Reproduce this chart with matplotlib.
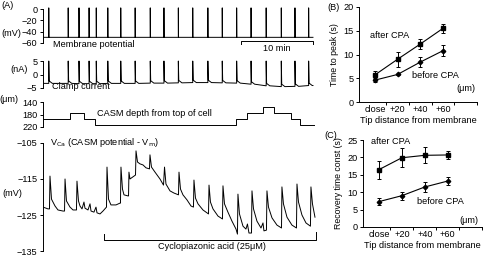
import numpy as np
import matplotlib
matplotlib.use("Agg")
import matplotlib.pyplot as plt

FS = 6.6
plt.rcParams['font.family'] = ['Liberation Sans', 'DejaVu Sans']
plt.rcParams['font.size'] = FS
plt.rcParams['mathtext.default'] = 'regular'

# ---- panel A data (time in min) ----
spike_t = [0.8, 3.5, 5.0, 6.4, 7.4, 9.0, 10.8, 12.8, 14.9, 16.8,
           18.8, 20.8, 22.9, 24.9, 26.9, 28.9, 31.0, 33.1, 35.0, 36.9]
t_end = 37.5
vm_rest = -50
vm_peak = 2
clamp_peak = 5
clamp_base = [-3.3, -3.3, -3.4, -3.4, -3.4, -3.3, -3.3, -3.3, -3.2, -3.2,
              -3.1, -3.0, -3.0, -3.1, -3.2, -3.6, -4.2, -4.5, -4.4, -4.1]

depth_t = [0, 3.75, 5.7, 7.2, 26.8, 28.3, 30.6, 32.1, 34.4, 35.7, 37.6]
depth_um = [195, 175, 195, 215, 195, 175, 155, 175, 195, 215, 215]

vca_t = [0.0, 0.69, 0.90, 0.97, 1.18, 1.67, 2.08, 2.78, 2.99, 3.06, 3.26, 3.75,
         4.17, 4.65, 4.72, 4.93, 5.14, 5.42, 5.69, 5.83, 6.25, 6.53, 6.67, 7.08,
         7.36, 7.50, 7.92, 8.33, 8.82, 8.89, 9.10, 9.44, 10.14, 10.69, 10.76, 10.83,
         11.04, 11.25, 11.81, 11.88, 11.94, 12.08, 12.50, 12.85, 12.92, 13.13, 13.47,
         13.89, 14.31, 14.79, 14.86, 15.07, 15.56, 16.25, 16.74, 16.88, 17.08, 17.64,
         18.19, 18.82, 18.89, 19.10, 19.44, 20.0, 20.56, 20.90, 20.97, 21.18, 21.53,
         22.22, 22.99, 23.06, 23.26, 23.61, 24.31, 24.93, 25.0, 25.21, 25.69, 26.25,
         26.81, 27.01, 27.08, 27.29, 27.78, 28.19, 28.40, 28.61, 28.96, 29.03, 29.24,
         29.72, 30.28, 30.56, 30.69, 31.04, 31.11, 31.32, 31.81, 32.50, 33.13, 33.19,
         33.40, 33.89, 34.58, 35.21, 35.28, 35.49, 35.97, 36.53, 37.15, 37.22, 37.43,
         37.78]
vca_v = [-122.8, -123.3, -123.3, -114.2, -120.6, -122.5, -123.6, -123.9, -123.9,
         -115.0, -121.1, -122.8, -123.6, -123.6, -115.6, -121.1, -122.5, -123.3,
         -121.4, -123.1, -123.6, -121.9, -123.9, -124.2, -122.8, -124.4, -124.7,
         -123.9, -122.8, -111.7, -120.6, -122.2, -122.2, -121.7, -121.7, -111.7,
         -117.8, -119.4, -119.7, -119.7, -113.1, -115.0, -114.4, -113.9, -107.2,
         -110.3, -110.8, -111.1, -111.9, -112.2, -108.3, -111.7, -113.1, -115.0,
         -116.7, -111.7, -116.4, -118.3, -118.9, -119.4, -113.1, -117.8, -119.4,
         -120.8, -122.5, -122.8, -115.3, -120.3, -121.9, -123.6, -124.7, -116.7,
         -121.4, -123.3, -125.3, -126.1, -116.9, -121.9, -124.2, -126.7, -128.9,
         -130.3, -119.2, -124.7, -128.1, -128.9, -127.5, -130.0, -130.0, -118.3,
         -123.3, -126.7, -128.6, -127.2, -129.4, -129.2, -118.3, -122.8, -125.8,
         -127.8, -128.6, -117.2, -121.9, -125.6, -127.8, -128.6, -116.4, -121.4,
         -125.0, -127.2, -128.1, -117.2, -121.9, -125.6]

cpa_start = 8.5
cpa_end = 37.9
scalebar_min = 10

# ---- panels B, C ----
dist_labels = ['close', '+20', '+40', '+60']
peak_after = [5.7, 9.0, 12.2, 15.5]
peak_after_err = [0.9, 1.6, 1.0, 0.9]
peak_before = [4.6, 5.8, 8.4, 10.8]
peak_before_err = [0.4, 0.2, 1.0, 1.2]

rec_after = [16.5, 19.9, 20.6, 20.7]
rec_after_err = [2.6, 2.8, 2.3, 1.2]
rec_before = [7.3, 9.0, 11.5, 13.2]
rec_before_err = [0.9, 1.2, 1.5, 1.2]

W, H = 485, 256
fig = plt.figure(figsize=(W / 100, H / 100), dpi=100)


def px_axes(l, t, r, b):
    return fig.add_axes([l / W, 1 - b / H, (r - l) / W, (b - t) / H])


def ftext(x, y, s, **kw):
    fig.text(x / W, 1 - y / H, s, **kw)


def trace_left(ax, lo, hi):
    for s in ['top', 'right', 'bottom']:
        ax.spines[s].set_visible(False)
    ax.spines['left'].set_bounds(lo, hi)
    ax.spines['left'].set_linewidth(0.7)
    ax.set_xticks([])
    ax.tick_params(axis='y', length=2.5, width=0.7, pad=1.5, labelsize=FS)
    ax.set_xlim(0, 38.2)
    ax.patch.set_alpha(0)


# membrane potential
ax1 = px_axes(43, 5, 318, 46)
mt, mv = [0], [vm_rest]
for t in spike_t:
    mt += [t, t, t + 0.02]
    mv += [vm_rest, vm_peak, vm_rest]
mt.append(t_end)
mv.append(vm_rest)
ax1.plot(mt, mv, color='black', lw=0.7)
ax1.set_ylim(-65.3, 7.1)
ax1.set_yticks([0, -20, -40, -60])
trace_left(ax1, -60, 0)
ax1.text(1.4, -55, 'Membrane potential', va='top', ha='left')
sb0 = t_end - scalebar_min
ax1.plot([sb0, sb0, sb0 + scalebar_min, sb0 + scalebar_min],
         [-61.5, -56.5, -56.5, -61.5], color='black', lw=0.7, clip_on=False)
ax1.text(sb0 + scalebar_min / 2, -62, '10 min', ha='center', va='top')

# clamp current
ax2 = px_axes(43, 57, 318, 92)
ct, cv = [0], [clamp_base[0]]
for t, b in zip(spike_t, clamp_base):
    ct += [t, t, t + 0.06, t + 0.5]
    cv += [b, clamp_peak, b + 0.9, b]
ct.append(t_end)
cv.append(clamp_base[-1])
ax2.plot(ct, cv, color='black', lw=0.7)
ax2.set_ylim(-6.5, 6.5)
ax2.set_yticks([5, 0, -5])
trace_left(ax2, -5, 5)
ax2.text(1.2, -4.3, 'Clamp current', va='center', ha='left')

# CASM depth
ax3 = px_axes(43, 97, 318, 131)
ax3.step(depth_t, depth_um, where='post', color='black', lw=0.7)
ax3.set_ylim(232.8, 124)
ax3.set_yticks([140, 180, 220])
trace_left(ax3, 140, 220)
ax3.text(7.5, 176, 'CASM depth from top of cell', va='center', ha='left')

# V_Ca
ax4 = px_axes(43, 139, 318, 255)
ax4.plot(vca_t, vca_v, color='black', lw=0.7)
ax4.set_ylim(-136.1, -103.9)
ax4.set_yticks([-105, -115, -125, -135])
trace_left(ax4, -135, -105)
ax4.text(1.0, -105, r'V$_{\rm Ca}$ (CASM potential - V$_{\rm m}$)', va='center',
         ha='left')
ax4.plot([cpa_start, cpa_start, cpa_end, cpa_end], [-130.3, -131.9, -131.9, -129.7],
         color='black', lw=0.7, clip_on=False)
ax4.text((cpa_start + cpa_end) / 2 + 0.3, -132.4, 'Cyclopiazonic acid (25μM)',
         ha='center', va='top')

ftext(1, 6, '(A)', va='center', ha='left')
ftext(11, 34, '(mV)', va='center', ha='center')
ftext(19, 69, '(nA)', va='center', ha='center')
ftext(9, 100, '(μm)', va='center', ha='center')
ftext(12, 193, '(mV)', va='center', ha='center')


def summary(ax, after, after_err, before, before_err, ymax, yt, ylabel):
    x = np.arange(len(dist_labels))
    ax.errorbar(x, after, yerr=after_err, color='black', lw=0.8, marker='s', ms=3,
                capsize=1.5, elinewidth=0.7, capthick=0.7)
    ax.errorbar(x, before, yerr=before_err, color='black', lw=0.8, marker='D', ms=2.3,
                capsize=1.5, elinewidth=0.7, capthick=0.7)
    ax.set_xlim(-0.7, 4.5)
    ax.set_ylim(0, ymax)
    ax.set_yticks(yt)
    ax.set_xticks(x)
    ax.set_xticklabels(dist_labels)
    ax.set_xticks([0.5, 1.5, 2.5, 3.5, 4.5], minor=True)
    ax.tick_params(axis='x', which='major', length=0, pad=2.5, labelsize=FS)
    ax.tick_params(axis='x', which='minor', length=2.5, width=0.7, direction='out')
    ax.tick_params(axis='y', length=2.5, width=0.7, pad=1.5, labelsize=FS)
    for s in ['top', 'right']:
        ax.spines[s].set_visible(False)
    for s in ['left', 'bottom']:
        ax.spines[s].set_linewidth(0.7)
    ax.set_xlabel('Tip distance from membrane', fontsize=FS, labelpad=1)
    ax.set_ylabel(ylabel, fontsize=6.3, labelpad=3)
    ax.patch.set_alpha(0)


axB = px_axes(359, 7, 477, 102)
summary(axB, peak_after, peak_after_err, peak_before, peak_before_err,
        20, [0, 5, 10, 15, 20], 'Time to peak (s)')
axB.text(-0.2, 14.1, 'after CPA', ha='left', va='center')
axB.text(1.65, 5.6, 'before CPA', ha='left', va='center')
axB.text(4.45, 2.8, '(μm)', ha='right', va='center')
ftext(327, 8, '(B)', va='center', ha='left')

axC = px_axes(363, 140, 482, 227)
summary(axC, rec_after, rec_after_err, rec_before, rec_before_err,
        25, [0, 5, 10, 15, 20, 25], 'Recovery time const (s)')
axC.text(-0.35, 24.5, 'after CPA', ha='left', va='center')
axC.text(1.65, 7.3, 'before CPA', ha='left', va='center')
axC.text(4.35, 1.8, '(μm)', ha='right', va='center')
ftext(324, 136, '(C)', va='center', ha='left')

fig.savefig('out.png', dpi=100)
